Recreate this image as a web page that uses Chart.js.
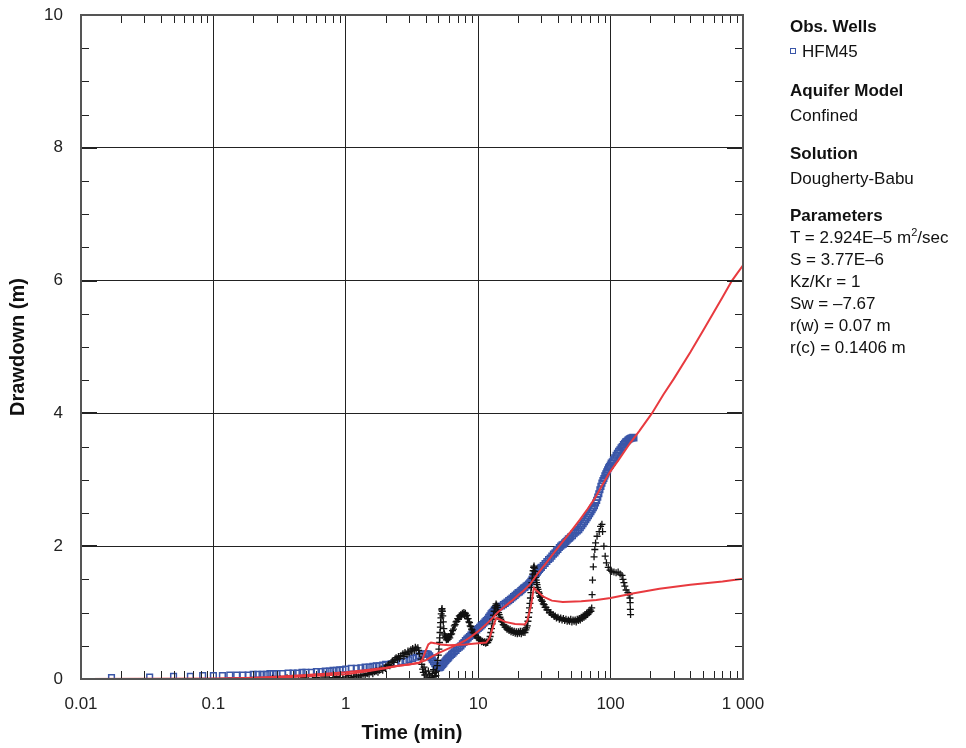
<!DOCTYPE html>
<html>
<head>
<meta charset="utf-8">
<script src="https://cdn.jsdelivr.net/npm/chart.js@4.4.0/dist/chart.umd.min.js"></script>
<style>
  body { margin: 0; background: #fff; }
  #wrap { position: relative; width: 966px; height: 748px; font-family: "Liberation Sans", Arial, sans-serif; color: #111; }
  #side div { position: absolute; left: 790px; font-size: 17px; line-height: 22px; white-space: nowrap; }
  #side .h { font-weight: bold; }
  .sq { display: inline-block; width: 4px; height: 4px; border: 1px solid #3a56a8; margin-right: 6px; vertical-align: 3px; }
</style>
</head>
<body>
<div id="wrap">
  <canvas id="chart" width="966" height="748"></canvas>
  <div id="side">
    <div class="h" style="top:16px">Obs. Wells</div>
    <div style="top:41px"><span class="sq"></span>HFM45</div>
    <div class="h" style="top:80px">Aquifer Model</div>
    <div style="top:105px">Confined</div>
    <div class="h" style="top:143px">Solution</div>
    <div style="top:168px">Dougherty-Babu</div>
    <div class="h" style="top:205px">Parameters</div>
    <div style="top:227px">T = 2.924E–5 m<sup style="font-size:11px;line-height:0">2</sup>/sec</div>
    <div style="top:249px">S = 3.77E–6</div>
    <div style="top:271px">Kz/Kr = 1</div>
    <div style="top:293px">Sw = –7.67</div>
    <div style="top:315px">r(w) = 0.07 m</div>
    <div style="top:337px">r(c) = 0.1406 m</div>
  </div>
</div>
<script>
// --- axis ticks ---
const xTickValues = [0.01, 0.1, 1, 10, 100, 1000];
const xTickLabels = ["0.01", "0.1", "1", "10", "100", "1 000"];
const xMinorFactors = [2, 3, 4, 5, 6, 7, 8, 9];
const yTickValues = [0, 2, 4, 6, 8, 10];
const yMinorValues = [0.5, 1, 1.5, 2.5, 3, 3.5, 4.5, 5, 5.5, 6.5, 7, 7.5, 8.5, 9, 9.5];
const yMajorValues = [2, 4, 6, 8];

// --- observed drawdown HFM45 (min, m) ---
const obsTime = [
  0.017, 0.033, 0.05, 0.067, 0.083, 0.1, 0.117, 0.133, 0.15, 0.167, 0.183, 0.2, 0.217, 0.233, 0.25, 0.267, 0.283, 0.3,
  0.333, 0.367, 0.4, 0.433, 0.467, 0.5, 0.55, 0.6, 0.65, 0.7, 0.75, 0.8, 0.85, 0.9, 0.95, 1.0, 1.1, 1.2,
  1.3, 1.4, 1.5, 1.6, 1.7, 1.8, 1.9, 2.0, 2.2, 2.4, 2.6, 2.8, 3.0, 3.2, 3.4, 3.6, 3.8, 4.0,
  4.1, 4.2, 4.3, 4.4, 4.5, 4.6, 4.7, 4.8, 4.9, 5.0, 5.1, 5.2, 5.3, 5.4, 5.5, 5.6, 5.7, 5.8, 5.9, 6.0,
  6.15, 6.3, 6.45, 6.6, 6.8, 7.0, 7.2, 7.4, 7.6, 7.8, 8.0, 8.2, 8.4, 8.6, 8.8, 9.0, 9.25, 9.5, 9.75, 10,
  10.25, 10.5, 10.75, 11, 11.25, 11.5, 11.75, 12, 12.25, 12.5, 12.75, 13, 13.25, 13.5, 13.75, 14, 14.5, 15, 15.5, 16,
  16.5, 17, 17.5, 18, 18.5, 19, 19.5, 20, 20.5, 21, 21.5, 22, 22.5, 23, 23.5, 24, 24.5, 25, 25.5, 26,
  26.5, 27, 27.5, 28, 28.5, 29, 29.5, 30, 31, 32, 33, 34, 35, 36, 37, 38, 39, 40, 41, 42,
  43, 44, 45, 46, 47, 48, 49, 50, 51.5, 53, 54.5, 56, 57.5, 59, 60.5, 62, 63.5, 65, 66.5, 68,
  69.5, 71, 72.5, 74, 75.5, 77, 78.5, 80, 81.5, 83, 84.5, 86, 87.5, 89, 90.5, 92, 93.5, 95, 96.5, 98,
  99.5, 101, 103, 105, 107.5, 110, 112.5, 115, 117.5, 120, 122.5, 125, 127.5, 130, 132.5, 135, 137.5, 140, 142.5, 145,
  147.5, 150];
const obsDrawdown = [
  0.02, 0.03, 0.04, 0.04, 0.05, 0.05, 0.05, 0.06, 0.06, 0.06, 0.06, 0.07, 0.07, 0.07, 0.07, 0.08, 0.08, 0.08,
  0.08, 0.09, 0.09, 0.09, 0.1, 0.1, 0.1, 0.11, 0.11, 0.12, 0.12, 0.13, 0.13, 0.14, 0.14, 0.15, 0.16, 0.16,
  0.17, 0.18, 0.18, 0.19, 0.2, 0.2, 0.21, 0.22, 0.23, 0.24, 0.26, 0.27, 0.29, 0.31, 0.33, 0.35, 0.37, 0.38,
  0.38, 0.37, 0.35, 0.32, 0.29, 0.26, 0.23, 0.2, 0.18, 0.17, 0.17, 0.18, 0.2, 0.22, 0.24, 0.26, 0.28, 0.3, 0.31, 0.33,
  0.35, 0.37, 0.39, 0.41, 0.43, 0.46, 0.48, 0.5, 0.53, 0.55, 0.58, 0.6, 0.62, 0.64, 0.66, 0.68, 0.7, 0.72, 0.74, 0.76,
  0.78, 0.8, 0.82, 0.84, 0.86, 0.88, 0.9, 0.93, 0.95, 0.98, 1.0, 1.02, 1.04, 1.05, 1.06, 1.07, 1.09, 1.1, 1.12, 1.14,
  1.16, 1.18, 1.2, 1.22, 1.24, 1.26, 1.28, 1.3, 1.31, 1.33, 1.35, 1.37, 1.38, 1.4, 1.41, 1.43, 1.45, 1.47, 1.5, 1.52,
  1.55, 1.57, 1.59, 1.61, 1.63, 1.65, 1.67, 1.68, 1.71, 1.74, 1.77, 1.8, 1.82, 1.85, 1.88, 1.9, 1.93, 1.95, 1.98, 2.0,
  2.02, 2.03, 2.05, 2.07, 2.09, 2.11, 2.12, 2.14, 2.16, 2.19, 2.21, 2.23, 2.25, 2.28, 2.31, 2.34, 2.37, 2.4, 2.43, 2.46,
  2.49, 2.52, 2.55, 2.58, 2.61, 2.65, 2.69, 2.74, 2.79, 2.85, 2.9, 2.95, 2.99, 3.02, 3.06, 3.09, 3.12, 3.15, 3.18, 3.2,
  3.22, 3.25, 3.27, 3.3, 3.33, 3.37, 3.4, 3.43, 3.45, 3.48, 3.5, 3.53, 3.55, 3.57, 3.58, 3.6, 3.61, 3.62, 3.63, 3.63,
  3.64, 3.63];

// --- observed derivative (min, m) ---
const derivTime = [
  0.28, 0.32, 0.36, 0.4, 0.44, 0.48, 0.52, 0.56, 0.6, 0.65, 0.7, 0.75, 0.8, 0.85, 0.9, 0.95, 1.0, 1.05, 1.1, 1.15,
  1.2, 1.25, 1.3, 1.35, 1.4, 1.45, 1.5, 1.55, 1.6, 1.65, 1.7, 1.75, 1.8, 1.85, 1.9, 1.95, 2.0, 2.05, 2.1, 2.15,
  2.2, 2.25, 2.3, 2.35, 2.4, 2.45, 2.5, 2.55, 2.6, 2.7, 2.75, 2.8, 2.9, 2.95, 3.0, 3.1, 3.15, 3.2, 3.3, 3.35,
  3.4, 3.5, 3.55, 3.6, 3.7, 3.75, 3.8, 3.85, 3.9, 3.95, 4.0, 4.1, 4.2, 4.3, 4.4, 4.5, 4.6, 4.7, 4.75, 4.8,
  4.85, 4.9, 4.95, 5.0, 5.05, 5.1, 5.12, 5.15, 5.18, 5.2, 5.23, 5.26, 5.3, 5.33, 5.36, 5.4, 5.45, 5.5, 5.55, 5.6,
  5.65, 5.7, 5.75, 5.8, 5.85, 5.9, 5.95, 6.0, 6.1, 6.2, 6.3, 6.4, 6.5, 6.6, 6.7, 6.8, 6.9, 7.0, 7.1, 7.2,
  7.3, 7.4, 7.5, 7.6, 7.7, 7.8, 7.9, 8.0, 8.1, 8.2, 8.3, 8.4, 8.5, 8.6, 8.7, 8.8, 8.9, 9.0, 9.15, 9.3,
  9.45, 9.6, 9.8, 10, 10.2, 10.4, 10.6, 10.8, 11, 11.2, 11.4, 11.6, 11.8, 12.0, 12.15, 12.3, 12.45, 12.6, 12.75, 12.9,
  13.05, 13.2, 13.35, 13.5, 13.65, 13.8, 13.95, 14.1, 14.25, 14.4, 14.6, 14.8, 15.0, 15.2, 15.45, 15.7, 15.95, 16.2, 16.5, 16.8,
  17.1, 17.4, 17.7, 18, 18.35, 18.7, 19.05, 19.4, 19.75, 20.1, 20.45, 20.8, 21.15, 21.5, 21.85, 22.2, 22.55, 22.9, 23.2, 23.5,
  23.75, 24.0, 24.2, 24.4, 24.6, 24.8, 25.0, 25.2, 25.4, 25.6, 25.8, 26.0, 26.2, 26.4, 26.6, 26.8, 27.0, 27.2, 27.4, 27.6,
  27.8, 28.0, 28.3, 28.6, 28.9, 29.2, 29.6, 30, 30.5, 31, 31.5, 32, 32.5, 33, 33.7, 34.5, 35.2, 36, 36.8, 37.5,
  38.2, 39, 40, 41, 42, 43, 44, 45, 46, 47, 48, 49, 50, 51, 52, 53, 54, 55, 56, 57,
  58, 59, 60, 61, 62, 63, 64, 65, 66, 67, 68, 69, 70, 71, 72, 72.5,
  73, 74, 75, 76, 77, 79, 82, 84, 86, 87, 89, 91, 93, 96, 99, 102, 106, 110, 114, 118,
  122, 124, 126, 128, 131, 135, 138, 140, 140.5, 141, 141.5];
const derivValue = [
  0.01, 0.0, 0.02, 0.01, 0.0, 0.02, 0.01, 0.0, 0.02, 0.01, 0.03, 0.01, 0.02, 0.04, 0.02, 0.01, 0.03, 0.05, 0.02, 0.04,
  0.06, 0.03, 0.05, 0.07, 0.05, 0.08, 0.07, 0.1, 0.08, 0.11, 0.12, 0.1, 0.13, 0.15, 0.13, 0.17, 0.16, 0.2, 0.22, 0.2,
  0.25, 0.27, 0.25, 0.3, 0.32, 0.29, 0.34, 0.31, 0.35, 0.38, 0.34, 0.4, 0.37, 0.42, 0.39, 0.44, 0.41, 0.46, 0.43, 0.48,
  0.45, 0.47, 0.43, 0.38, 0.3, 0.22, 0.15, 0.1, 0.18, 0.06, 0.12, 0.03, 0.12, 0.06, 0.02, 0.08, 0.14, 0.04, 0.1, 0.05,
  0.12, 0.2, 0.28, 0.36, 0.45, 0.55, 0.62, 0.7, 0.78, 0.85, 0.92, 0.98, 1.04, 1.06, 1.02, 0.95, 0.86, 0.76, 0.68, 0.66,
  0.62, 0.64, 0.59, 0.62, 0.6, 0.63, 0.6, 0.64, 0.62, 0.67, 0.68, 0.73, 0.75, 0.8, 0.82, 0.86, 0.87, 0.91, 0.9, 0.95,
  0.94, 0.97, 0.96, 0.99, 0.97, 1.0, 0.97, 0.99, 0.95, 0.96, 0.91, 0.91, 0.86, 0.85, 0.8, 0.79, 0.75, 0.74, 0.7, 0.69,
  0.66, 0.65, 0.62, 0.62, 0.59, 0.59, 0.56, 0.57, 0.55, 0.56, 0.54, 0.55, 0.55, 0.58, 0.6, 0.64, 0.7, 0.76, 0.83, 0.9,
  0.96, 1.02, 1.07, 1.1, 1.13, 1.11, 1.08, 1.04, 1.0, 0.97, 0.93, 0.9, 0.87, 0.86, 0.82, 0.81, 0.78, 0.78, 0.75, 0.76,
  0.73, 0.75, 0.71, 0.73, 0.7, 0.72, 0.69, 0.71, 0.68, 0.71, 0.69, 0.72, 0.68, 0.72, 0.7, 0.73, 0.7, 0.74, 0.77, 0.8,
  0.87, 0.93, 1.0, 1.07, 1.14, 1.22, 1.3, 1.38, 1.45, 1.52, 1.58, 1.63, 1.68, 1.7, 1.67, 1.62, 1.57, 1.53, 1.49, 1.45,
  1.42, 1.38, 1.35, 1.31, 1.29, 1.25, 1.23, 1.19, 1.17, 1.13, 1.12, 1.08, 1.08, 1.04, 1.04, 1.0, 1.0, 0.97, 0.97, 0.94,
  0.95, 0.92, 0.93, 0.9, 0.92, 0.89, 0.91, 0.88, 0.9, 0.87, 0.89, 0.87, 0.9, 0.86, 0.89, 0.87, 0.89, 0.86, 0.9, 0.88,
  0.91, 0.89, 0.93, 0.91, 0.95, 0.93, 0.97, 0.95, 0.99, 0.97, 1.01, 1.0, 1.04, 1.02, 1.07, 1.27,
  1.49, 1.69, 1.84, 1.95, 2.05, 2.15, 2.22, 2.3, 2.33, 2.22, 2.0, 1.85, 1.75, 1.68, 1.64, 1.62, 1.61, 1.6, 1.61, 1.58,
  1.56, 1.5, 1.45, 1.4, 1.34, 1.3, 1.27, 1.22, 1.15, 1.05, 0.97];

// --- Dougherty-Babu fit: drawdown (min, m) ---
const fitTime = [0.01, 0.1, 0.15, 0.2, 0.3, 0.5, 0.7, 1, 1.5, 2, 2.5, 3, 3.6, 4, 4.5, 5, 6, 7, 8, 9, 10, 11, 12, 13, 14, 16, 18, 20,
  22, 24.5, 28, 33, 38, 43.5, 50, 58.7, 67, 76, 87, 99, 115, 140, 164, 205, 250, 300, 400, 500, 600, 700, 826, 1000];
const fitDrawdown = [0, 0.003, 0.01, 0.02, 0.035, 0.06, 0.08, 0.1, 0.14, 0.17, 0.2, 0.22, 0.25, 0.28, 0.34, 0.39, 0.46, 0.52, 0.58, 0.65,
  0.72, 0.79, 0.86, 0.93, 1.0, 1.1, 1.18, 1.26, 1.33, 1.42, 1.58, 1.76, 1.92, 2.07, 2.22, 2.4, 2.56, 2.72, 2.93, 3.12, 3.3, 3.55, 3.73,
  4.0, 4.28, 4.52, 4.92, 5.25, 5.52, 5.75, 6.0, 6.23];

// --- Dougherty-Babu fit: derivative (min, m) ---
const fitDerivTime = [0.01, 0.1, 0.2, 0.3, 0.5, 1, 1.5, 2, 2.5, 3, 3.6, 3.8, 4.0, 4.2, 4.4, 4.7, 5.2, 6, 8, 10, 11.5, 12.2, 13, 13.7,
  14.5, 16, 19, 22.5, 23.5, 25, 26.3, 28, 31, 36, 43.5, 60, 78, 100, 150, 234, 400, 700, 1000];
const fitDerivValue = [0, 0.005, 0.01, 0.02, 0.04, 0.07, 0.12, 0.16, 0.2, 0.22, 0.24, 0.3, 0.42, 0.52, 0.55, 0.54, 0.52, 0.51, 0.52,
  0.54, 0.55, 0.62, 0.8, 0.92, 0.9, 0.86, 0.83, 0.82, 0.88, 1.1, 1.37, 1.32, 1.24, 1.18, 1.16, 1.17, 1.19, 1.22, 1.29, 1.36, 1.42, 1.47, 1.51];

const pairs = (xs, ys) => xs.map((t, i) => ({ x: t, y: ys[i] }));

const BLUE = '#3a56a8';
const RED = '#e83a3f';

// frame + inward minor ticks
const frameTicks = {
  id: 'frameTicks',
  afterDatasetsDraw(chart) {
    const { ctx, chartArea: a, scales: { x, y } } = chart;
    ctx.save();
    ctx.strokeStyle = '#222';
    ctx.lineWidth = 1;
    ctx.beginPath();
    xTickValues.slice(0, -1).forEach(dec => {
      xMinorFactors.forEach(f => {
        const px = Math.round(x.getPixelForValue(dec * f)) + 0.5;
        ctx.moveTo(px, a.bottom); ctx.lineTo(px, a.bottom - 8);
        ctx.moveTo(px, a.top); ctx.lineTo(px, a.top + 8);
      });
    });
    yMinorValues.forEach(v => {
      const py = Math.round(y.getPixelForValue(v)) + 0.5;
      ctx.moveTo(a.left, py); ctx.lineTo(a.left + 8, py);
      ctx.moveTo(a.right, py); ctx.lineTo(a.right - 8, py);
    });
    ctx.stroke();
    ctx.lineWidth = 2;
    ctx.beginPath();
    yMajorValues.forEach(v => {
      const py = Math.round(y.getPixelForValue(v));
      ctx.moveTo(a.left, py); ctx.lineTo(a.left + 16, py);
      ctx.moveTo(a.right, py); ctx.lineTo(a.right - 16, py);
    });
    ctx.stroke();
    ctx.strokeStyle = '#555';
    ctx.lineWidth = 2;
    ctx.strokeRect(a.left, a.top, a.right - a.left, a.bottom - a.top);
    ctx.restore();
  }
};

new Chart(document.getElementById('chart'), {
  type: 'scatter',
  data: {
    datasets: [
      { label: 'HFM45', data: pairs(obsTime, obsDrawdown), order: 3, pointStyle: 'rect', pointRadius: 4,
        borderColor: BLUE, backgroundColor: 'rgba(0,0,0,0)', borderWidth: 1.5 },
      { label: 'HFM45 derivative', data: pairs(derivTime, derivValue), order: 2, pointStyle: 'cross', pointRadius: 3.5,
        borderColor: '#111', borderWidth: 1.3 },
      { label: 'Fit', data: pairs(fitTime, fitDrawdown), order: 1, showLine: true, pointRadius: 0,
        borderColor: RED, borderWidth: 2, tension: 0 },
      { label: 'Fit derivative', data: pairs(fitDerivTime, fitDerivValue), order: 0, showLine: true, pointRadius: 0,
        borderColor: RED, borderWidth: 2, tension: 0 }
    ]
  },
  options: {
    responsive: false,
    animation: false,
    layout: { padding: { left: 0, top: 15, right: 966 - 743, bottom: 0 } },
    plugins: { legend: { display: false }, tooltip: { enabled: false } },
    scales: {
      x: {
        type: 'logarithmic', min: 0.01, max: 1000,
        afterBuildTicks: s => { s.ticks = xTickValues.map(v => ({ value: v })); },
        afterFit: s => { s.height = 748 - 679; },
        ticks: { callback: (v, i) => xTickLabels[i], color: '#222', padding: 15, maxRotation: 0, autoSkip: false,
          font: { family: 'Liberation Sans', size: 17 } },
        grid: { color: '#222', lineWidth: 1, drawTicks: false },
        border: { display: false },
        title: { display: true, text: 'Time (min)', color: '#111', padding: { top: 0, bottom: 3 },
          font: { family: 'Liberation Sans', size: 20, weight: 'bold' } }
      },
      y: {
        min: 0, max: 10,
        afterBuildTicks: s => { s.ticks = yTickValues.map(v => ({ value: v })); },
        afterFit: s => { s.width = 81; s.paddingTop = 0; s.paddingBottom = 0; },
        ticks: { color: '#222', padding: 18, font: { family: 'Liberation Sans', size: 17 } },
        grid: { color: '#222', lineWidth: 1, drawTicks: false },
        border: { display: false },
        title: { display: true, text: 'Drawdown (m)', color: '#111', padding: { top: 6, bottom: 0 },
          font: { family: 'Liberation Sans', size: 20, weight: 'bold' } }
      }
    }
  },
  plugins: [frameTicks]
});
</script>
</body>
</html>
